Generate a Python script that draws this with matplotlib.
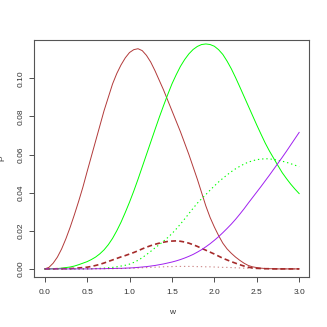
import numpy as np
import matplotlib
matplotlib.use('Agg')
from matplotlib import pyplot as plt

#%% Data (step 0.05 in w)

w = np.linspace(0.0, 3.0, 61)

brown_solid = [0, 0.0008, 0.003, 0.0062, 0.0105, 0.0158, 0.0218, 0.0284, 0.0354, 0.0428,
               0.051, 0.059, 0.067, 0.075, 0.083, 0.090, 0.097, 0.1025, 0.107, 0.1107,
               0.1135, 0.115, 0.1155, 0.1145, 0.112, 0.1085, 0.104, 0.099, 0.094, 0.0885,
               0.083, 0.0775, 0.072, 0.066, 0.060, 0.0535, 0.047, 0.040, 0.033, 0.027,
               0.022, 0.0175, 0.0135, 0.0105, 0.0082, 0.0062, 0.0045, 0.003, 0.0018, 0.0011,
               0.0007, 0.0004, 0.0002, 0.0001, 0.0001, 0, 0, 0, 0, 0,
               0]

green_solid = [0, 0, 0.0001, 0.0002, 0.0004, 0.0007, 0.001, 0.0015, 0.0022, 0.003,
               0.0038, 0.0049, 0.0062, 0.0079, 0.0100, 0.0127, 0.0160, 0.0200, 0.0245, 0.0296,
               0.0350, 0.0408, 0.047, 0.0535, 0.060, 0.0665, 0.073, 0.0794, 0.0855, 0.0914,
               0.097, 0.1018, 0.1062, 0.1098, 0.1128, 0.1151, 0.1167, 0.1177, 0.118, 0.1177,
               0.1168, 0.115, 0.1125, 0.109, 0.105, 0.1004, 0.0955, 0.0905, 0.0855, 0.0805,
               0.0755, 0.0707, 0.066, 0.0618, 0.058, 0.0542, 0.0505, 0.0474, 0.0445, 0.0419,
               0.0395]

brown_dashed = [0, 0, 0, 0.0001, 0.0001, 0.0001, 0.0002, 0.0003, 0.0005, 0.0007,
                0.0009, 0.0013, 0.0018, 0.0024, 0.0031, 0.0039, 0.0047, 0.0055, 0.0063, 0.0070,
                0.0078, 0.0086, 0.0095, 0.0105, 0.0114, 0.0122, 0.0129, 0.0135, 0.0140, 0.0144,
                0.0146, 0.0147, 0.0145, 0.0141, 0.0135, 0.0127, 0.0118, 0.0108, 0.0098, 0.0088,
                0.0078, 0.0067, 0.0056, 0.0047, 0.0038, 0.0030, 0.0022, 0.0015, 0.0009, 0.0005,
                0.0003, 0.0002, 0.0001, 0.0001, 0, 0, 0, 0, 0, 0,
                0]

green_dotted = [0, 0, 0, 0, 0, 0, 0, 0, 0, 0,
                0.0001, 0.0001, 0.0002, 0.0003, 0.0004, 0.0006, 0.0008, 0.0011, 0.0015, 0.0019,
                0.0025, 0.0034, 0.0045, 0.0059, 0.0075, 0.0092, 0.011, 0.0127, 0.0145, 0.0164,
                0.0185, 0.0209, 0.0235, 0.0262, 0.029, 0.0318, 0.0345, 0.0368, 0.039, 0.0413,
                0.0435, 0.0456, 0.0475, 0.0493, 0.051, 0.0525, 0.0538, 0.055, 0.056, 0.0567,
                0.0573, 0.0576, 0.0578, 0.0577, 0.0574, 0.057, 0.0565, 0.0559, 0.0552, 0.0544,
                0.0536]

purple_solid = [0, 0, 0, 0, 0, 0, 0, 0, 0, 0,
                0, 0, 0.0001, 0.0001, 0.0001, 0.0002, 0.0002, 0.0003, 0.0003, 0.0004,
                0.0005, 0.0006, 0.0008, 0.001, 0.0012, 0.0015, 0.0018, 0.0022, 0.0026, 0.0031,
                0.0036, 0.0042, 0.0049, 0.0057, 0.0066, 0.0076, 0.0088, 0.0101, 0.0116, 0.0132,
                0.0150, 0.0169, 0.0190, 0.0212, 0.0235, 0.0260, 0.0287, 0.0315, 0.0345, 0.0374,
                0.0403, 0.0432, 0.0462, 0.0492, 0.0523, 0.0554, 0.0585, 0.0617, 0.065, 0.0683,
                0.0716]

brown_dotted = [0, 0, 0, 0, 0, 0, 0, 0, 0, 0,
                0, 0, 0, 0, 0.0001, 0.0001, 0.0001, 0.0002, 0.0002, 0.0003,
                0.0003, 0.0004, 0.0005, 0.0006, 0.0007, 0.0008, 0.0009, 0.001, 0.0011, 0.0012,
                0.0012, 0.0013, 0.0013, 0.0013, 0.0013, 0.0013, 0.0012, 0.0012, 0.0011, 0.0011,
                0.001, 0.0009, 0.0008, 0.0008, 0.0007, 0.0006, 0.0005, 0.0004, 0.0003, 0.0003,
                0.0002, 0.0002, 0.0001, 0.0001, 0.0001, 0, 0, 0, 0, 0,
                0]

xticks = [0.0, 0.5, 1.0, 1.5, 2.0, 2.5, 3.0]
yticks = [0.00, 0.02, 0.04, 0.06, 0.08, 0.10]

for s in [brown_solid, green_solid, brown_dashed, green_dotted, purple_solid, brown_dotted]:
    assert len(s) == len(w)

#%% Plot

plt.rcParams['font.family'] = ['Liberation Sans', 'DejaVu Sans']

fig = plt.figure(figsize=(3.27, 3.27), dpi=100)
ax = fig.add_axes([0.1055, 0.152, 0.8405, 0.727])

ax.plot(w, brown_solid, color='#B23A3A', lw=0.7)
ax.plot(w, green_solid, color='#00FF00', lw=0.7)
ax.plot(w, brown_dashed, color='brown', lw=1.2, linestyle=(0, (3.0, 1.9)))
ax.plot(w, green_dotted, color='#00FF00', lw=0.8, linestyle=(0, (1.2, 2.6)))
ax.plot(w, purple_solid, color='#A020F0', lw=0.7)
ax.plot(w, brown_dotted, color='brown', lw=0.8, alpha=0.55, linestyle=(0, (1.2, 2.6)))

ax.set_xlim(-0.12, 3.12)
ax.set_ylim(-0.0044, 0.1203)

ax.set_xticks(xticks)
ax.set_xticklabels(['{:.1f}'.format(t) for t in xticks])
ax.set_yticks(yticks)
ax.set_yticklabels(['{:.2f}'.format(t) for t in yticks], rotation=90, va='center')

ax.tick_params(axis='both', labelsize=6, length=3.6, width=0.6, color='#333333',
               labelcolor='#333333')
ax.tick_params(axis='x', pad=5)
ax.tick_params(axis='y', pad=3.5)

for sp in ax.spines.values():
    sp.set_color('#555555')
    sp.set_linewidth(0.8)

ax.set_xlabel('w', fontsize=6, color='#333333', labelpad=9)
ax.set_ylabel('P', fontsize=6, color='#333333', labelpad=8)

fig.savefig('out.png', dpi=100)
